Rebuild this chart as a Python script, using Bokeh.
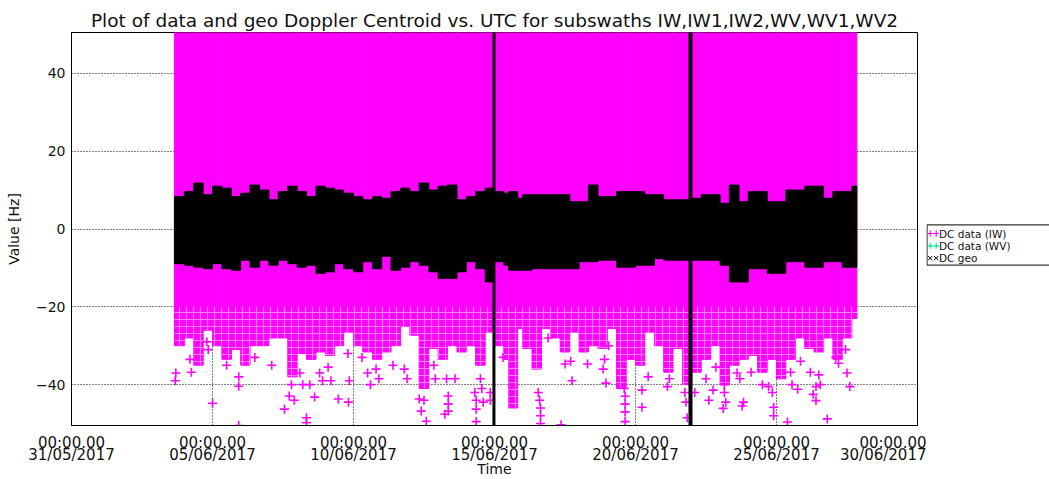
from bokeh.plotting import figure
from bokeh.layouts import row
from bokeh.models import Range1d, FixedTicker, LinearAxis
from bokeh.embed import file_html
from bokeh.resources import INLINE
from bokeh.core.properties import value

FONT = "DejaVu Sans"
MAGENTA = "#ff00ff"
MINT = "#00e89a"
INK = "#111111"

TITLE = "Plot of data and geo Doppler Centroid vs. UTC for subswaths IW,IW1,IW2,WV,WV1,WV2"

# Time axis: days since 31/05/2017 00:00 UTC
tick_day = [0, 5, 10, 15, 20, 25, 30]
tick_time = ["00:00.00"] * 7
tick_date = ["31/05/2017", "05/06/2017", "10/06/2017", "15/06/2017",
             "20/06/2017", "25/06/2017", "30/06/2017"]
hz_ticks = [-40, -20, 0, 20, 40]
hz_tick_text = ["\u221240", "\u221220", "0", "20", "40"]

# IW data Doppler centroid: spread of the point cloud in 8-hour time bins
bin_start = [3.65, 4.00, 4.33, 4.67, 5.00, 5.33, 5.67, 6.00, 6.33, 6.67,
             7.00, 7.33, 7.67, 8.00, 8.33, 8.67, 9.00, 9.33, 9.65, 10.00,
             10.33, 10.67, 11.00, 11.33, 11.67, 12.00, 12.33, 12.67, 13.00, 13.33,
             13.67, 14.00, 14.33, 14.67, 15.00, 15.33, 15.50, 15.82, 16.00, 16.33,
             16.67, 17.00, 17.33, 17.67, 18.00, 18.33, 18.67, 19.00, 19.33, 19.67,
             20.00, 20.33, 20.67, 21.00, 21.33, 21.67, 22.00, 22.33, 22.67, 23.00,
             23.33, 23.67, 24.00, 24.33, 24.67, 25.00, 25.33, 25.67, 26.00, 26.33,
             26.67, 27.00, 27.33, 27.67]
bin_end = [4.00, 4.33, 4.67, 5.00, 5.33, 5.67, 6.00, 6.33, 6.67, 7.00,
           7.33, 7.67, 8.00, 8.33, 8.67, 9.00, 9.33, 9.65, 10.00, 10.33,
           10.67, 11.00, 11.33, 11.67, 12.00, 12.33, 12.67, 13.00, 13.33, 13.67,
           14.00, 14.33, 14.67, 15.00, 15.33, 15.50, 15.82, 16.00, 16.33, 16.67,
           17.00, 17.33, 17.67, 18.00, 18.33, 18.67, 19.00, 19.33, 19.67, 20.00,
           20.33, 20.67, 21.00, 21.33, 21.67, 22.00, 22.33, 22.67, 23.00, 23.33,
           23.67, 24.00, 24.33, 24.67, 25.00, 25.33, 25.67, 26.00, 26.33, 26.67,
           27.00, 27.33, 27.67, 27.85]
iw_low = [-30.0, -28.0, -35.0, -26.0, -30.0, -33.5, -31.0, -35.0, -30.0, -30.0,
          -28.0, -28.0, -38.0, -32.0, -33.5, -31.6, -32.5, -30.0, -26.5, -30.0,
          -31.6, -33.5, -31.6, -30.0, -25.0, -27.3, -41.0, -30.7, -33.5, -30.0,
          -31.6, -30.0, -35.0, -26.5, -30.0, -33.5, -46.0, -25.6, -30.7, -36.0,
          -25.6, -28.0, -31.6, -26.5, -31.6, -30.0, -30.7, -25.6, -41.0, -33.5,
          -35.0, -26.5, -30.0, -36.8, -30.7, -40.0, -36.8, -33.5, -30.0, -40.0,
          -35.0, -33.5, -32.5, -36.8, -33.5, -38.5, -33.5, -28.0, -30.7, -31.6,
          -28.0, -33.5, -28.0, -23.0]
iw_high = 55.0         # the IW cloud runs off the top of the value axis
iw_dense_floor = -20.0  # below this the IW samples thin out into streaks

# Geometric Doppler centroid: spread per time bin
geo_high = [8.3, 9.6, 11.8, 8.8, 11.0, 10.5, 8.3, 9.2, 11.3, 10.0,
            7.5, 9.6, 11.0, 9.6, 8.3, 11.0, 10.5, 10.0, 9.2, 8.3,
            7.5, 8.3, 7.9, 9.6, 10.5, 9.6, 11.8, 10.0, 11.0, 11.3,
            7.5, 8.3, 9.6, 10.5, 9.6, 9.2, 9.6, 7.9, 8.8, 8.8,
            8.8, 8.8, 8.8, 7.0, 7.0, 11.3, 8.3, 8.3, 9.6, 9.6,
            9.6, 8.8, 8.8, 7.5, 7.5, 7.5, 7.9, 8.8, 8.8, 6.6,
            11.3, 7.0, 9.6, 9.6, 7.0, 7.0, 10.0, 10.0, 11.0, 11.0,
            7.9, 9.6, 9.6, 11.0]
geo_low = [-8.9, -9.3, -9.8, -10.2, -8.9, -10.2, -10.6, -8.0, -9.8, -8.0,
           -9.3, -8.0, -8.9, -9.8, -9.3, -11.4, -11.0, -8.9, -10.2, -11.0,
           -8.4, -10.2, -7.0, -10.6, -9.8, -8.4, -9.3, -11.0, -12.7, -12.7,
           -11.0, -8.4, -10.2, -13.6, -8.4, -9.3, -10.6, -10.6, -10.6, -10.2,
           -10.2, -10.2, -10.2, -10.2, -8.4, -8.4, -8.0, -8.0, -9.8, -9.8,
           -9.3, -9.3, -7.6, -8.0, -8.0, -8.0, -8.0, -8.0, -8.0, -9.3,
           -13.6, -13.6, -10.2, -10.2, -11.4, -11.4, -8.4, -8.4, -9.8, -9.8,
           -8.4, -8.4, -9.8, -9.8]

# Geo passes with values spanning the whole axis
geo_spike_day = [14.98, 21.95]
geo_spike_low = [-55.0, -55.0]
geo_spike_high = [55.0, 55.0]
geo_spike_width = [3, 4]

# Isolated IW samples below the main cloud
iw_pt_day = [3.68, 3.70, 4.20, 4.25, 4.80, 4.85, 5.00, 5.50, 5.93, 5.93, 5.93,
             6.50, 7.10, 7.55, 7.72, 7.80, 7.90, 8.10, 8.20, 8.33, 8.33, 8.45,
             8.62, 8.80, 8.90, 9.10, 9.20, 9.46, 9.82, 9.80, 9.85,
             10.30, 10.50, 10.60, 10.80, 10.90, 11.40, 11.80, 11.90, 12.33, 12.40,
             12.58, 12.50, 12.85, 12.90, 13.24, 13.30, 13.36, 13.36, 13.36, 13.60,
             14.30, 14.35, 14.35, 14.35, 14.50, 14.55, 14.60, 14.85, 14.85, 15.30,
             16.55, 16.60, 16.63, 16.63, 16.63, 16.90, 17.36, 17.50, 17.75, 17.70,
             18.30, 18.85, 18.90, 18.95, 19.05, 19.60, 19.63, 19.63, 19.63, 19.63,
             20.23, 20.23, 20.45, 21.13, 21.20, 21.79, 21.83, 21.75,
             22.10, 22.50, 22.60, 22.75, 22.85, 23.11, 23.15, 23.15, 23.20, 23.60,
             23.70, 23.83, 23.78, 24.10, 24.50, 24.72, 24.90, 24.90, 24.85, 25.39,
             25.50, 25.55, 25.75, 25.85, 26.20, 26.30, 26.40, 26.40, 26.50, 26.55,
             26.80, 27.10, 27.20, 27.45, 27.50, 27.60]
iw_pt_hz = [-39.0, -37.0, -33.5, -36.8, -29.0, -31.0, -44.8, -35.0, -38.0, -40.4, -50.5,
            -33.0, -35.0, -46.3, -42.9, -40.0, -44.0, -37.0, -40.0, -48.5, -49.8, -40.0,
            -43.2, -37.0, -39.0, -35.5, -39.0, -43.7, -44.5, -32.0, -39.0,
            -33.0, -37.0, -40.0, -36.0, -38.5, -35.0, -36.0, -38.5, -43.7, -46.8,
            -49.4, -44.0, -35.0, -38.5, -47.6, -38.5, -42.9, -45.0, -46.8, -38.5,
            -42.0, -44.0, -46.3, -49.5, -38.5, -41.0, -44.5, -42.0, -44.0, -33.0,
            -42.0, -44.0, -46.0, -48.0, -50.0, -28.0, -50.3, -34.7, -39.0, -34.0,
            -34.7, -36.0, -33.5, -39.6, -30.0, -41.0, -43.0, -45.0, -47.0, -49.5,
            -41.4, -45.8, -38.0, -40.5, -38.5, -44.5, -48.5, -42.0,
            -42.0, -38.5, -44.0, -41.4, -35.5, -46.1, -40.0, -42.0, -44.5, -37.0,
            -38.5, -44.5, -45.5, -36.8, -40.0, -40.5, -45.8, -48.0, -42.0, -49.6,
            -36.8, -40.0, -41.2, -34.0, -36.8, -42.5, -40.5, -44.1, -37.5, -40.0,
            -48.8, -33.0, -34.5, -31.0, -37.0, -40.5]

legend_text = ["DC data (IW)", "DC data (WV)", "DC geo"]

p = figure(width=926, height=479, output_backend="svg", toolbar_location=None,
           x_range=Range1d(0, 30), y_range=Range1d(-50.5, 50.5),
           min_border_left=71, min_border_right=9, min_border_top=32,
           min_border_bottom=0, background_fill_color="white",
           border_fill_color="white")
p.outline_line_color = "black"
p.outline_line_alpha = 1.0

p.title.text = TITLE
p.title.align = "center"
p.title.text_font = FONT
p.title.text_font_size = "18.5px"
p.title.text_font_style = "normal"
p.title.text_color = INK
p.title.standoff = 3

# IW cloud
p.quad(left=bin_start, right=bin_end, bottom=iw_low, top=iw_high,
       fill_color=MAGENTA, line_color=MAGENTA, line_width=1)
# gaps between the sparser samples in the lower part of the cloud
p.quad(left=bin_start, right=bin_end, bottom=iw_low, top=iw_dense_floor,
       fill_color=None, line_color=None, hatch_pattern="+",
       hatch_color="white", hatch_alpha=0.5, hatch_scale=7, hatch_weight=1.2)
p.scatter(iw_pt_day, iw_pt_hz, marker="cross", size=9, line_width=1.6,
          color=MAGENTA)

# geometric centroid band
p.quad(left=bin_start, right=bin_end, bottom=geo_low, top=geo_high,
       fill_color="black", line_color="black", line_width=1)
p.segment(x0=geo_spike_day, x1=geo_spike_day, y0=geo_spike_low,
          y1=geo_spike_high, line_width=geo_spike_width, color="black")

# time axis: clock line on the first axis, date line and title on a second one
date_axis = LinearAxis()
p.add_layout(date_axis, "below")
xa = p.xaxis[0]
for a, labels in ((xa, tick_time), (date_axis, tick_date)):
    a.ticker = FixedTicker(ticks=tick_day)
    a.major_label_overrides = dict(zip(tick_day, labels))
    a.major_label_text_font_size = "15px"
xa.major_label_standoff = 8
date_axis.major_label_standoff = -9
date_axis.axis_line_color = None
date_axis.axis_label = "Time"
date_axis.axis_label_text_font_size = "14px"
date_axis.axis_label_standoff = -6

p.yaxis.ticker = FixedTicker(ticks=hz_ticks)
p.yaxis.major_label_overrides = dict(zip(hz_ticks, hz_tick_text))
p.yaxis.major_label_text_font_size = "14px"
p.yaxis.major_label_standoff = 6
p.yaxis.axis_label = "Value [Hz]"
p.yaxis.axis_label_text_font_size = "14px"
p.yaxis.axis_label_standoff = 11

for a in (xa, date_axis, p.yaxis[0]):
    a.major_tick_in = 0
    a.major_tick_out = 0
    a.minor_tick_in = 0
    a.minor_tick_out = 0
    a.major_label_text_font = FONT
    a.major_label_text_color = INK
    a.axis_label_text_font = FONT
    a.axis_label_text_font_style = "normal"
    a.axis_label_text_color = INK
xa.axis_line_color = "black"
p.yaxis.axis_line_color = "black"

p.xgrid.ticker = FixedTicker(ticks=tick_day)
p.ygrid.ticker = FixedTicker(ticks=hz_ticks)
for g in (p.xgrid, p.ygrid):
    g.grid_line_color = "black"
    g.grid_line_dash = "1 2"
    g.grid_line_width = 1
    g.grid_line_alpha = 1.0

# legend panel on the right, in pixel coordinates
leg = figure(width=123, height=479, output_backend="svg", toolbar_location=None,
             x_range=Range1d(926, 1049), y_range=Range1d(479, 0),
             x_axis_type=None, y_axis_type=None,
             min_border_left=0, min_border_right=0, min_border_top=0,
             min_border_bottom=0, outline_line_color=None,
             background_fill_color="white", border_fill_color="white")
leg.xgrid.visible = False
leg.ygrid.visible = False
leg.line(x=[1100, 926.5, 926.5, 1100], y=[234.5, 234.5, 283.5, 283.5],
         line_color="black", line_width=1)
leg.scatter(x=[929.7, 935.7], y=[245, 245], marker="cross", size=6,
            line_width=1.2, color=MAGENTA)
leg.scatter(x=[929.7, 935.7], y=[260, 260], marker="cross", size=6,
            line_width=1.2, color=MINT)
leg.scatter(x=[929.7, 935.7], y=[275, 275], marker="x", size=6,
            line_width=1.0, color="black")
leg.text(x=[938.5, 938.5, 938.5], y=[245, 260, 275], text=legend_text,
         text_baseline="middle", text_align="left", text_font=value(FONT),
         text_font_size="10.5px", text_color=INK)

layout = row(p, leg)
open("out.html", "w").write(file_html(layout, INLINE))
